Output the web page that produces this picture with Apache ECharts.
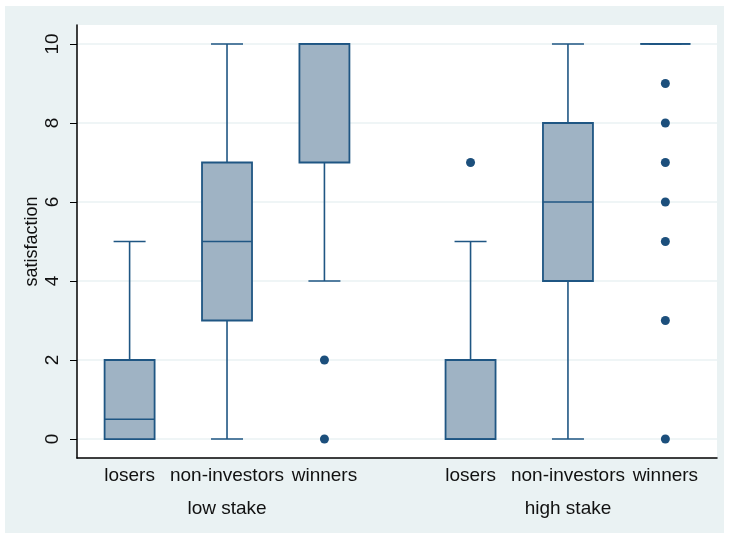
<!DOCTYPE html>
<html>
<head>
<meta charset="utf-8">
<script src="https://cdn.jsdelivr.net/npm/echarts@6.0.0/dist/echarts.min.js"></script>
<style>
  html, body { margin: 0; padding: 0; background: #ffffff; }
  #main { width: 729px; height: 535px; }
</style>
</head>
<body>
<div id="main"></div>
<script>
// groups and their categories
var groups = ['low stake', 'high stake'];
var groupPos = [2, 5.5];
var categories = ['losers', 'non-investors', 'winners', 'losers', 'non-investors', 'winners'];
var catPos = [1, 2, 3, 4.5, 5.5, 6.5];

// box stats: [min, q1, median, q3, max]
var boxStats = [
    [0, 0, 0.5, 2, 5],
    [0, 3, 5, 7, 10],
    [4, 7, 10, 10, 10],
    [0, 0, 0, 2, 5],
    [0, 4, 6, 8, 10],
    [10, 10, 10, 10, 10]
];

// outside values: [category index, value]
var outliers = [
    [2, 2], [2, 0],
    [3, 7],
    [5, 9], [5, 8], [5, 7], [5, 6], [5, 5], [5, 3], [5, 0]
];

var yTicks = [0, 2, 4, 6, 8, 10];

var LINE = '#1f5683';
var DOT = '#1c4f7c';
var FILL = '#9fb3c4';
var BG = '#eaf2f3';
var FONT = 'Liberation Sans';
var BOX_W = 50, CAP_W = 32;

var boxData = boxStats.map(function (s, i) { return [catPos[i]].concat(s); });
var outData = outliers.map(function (o) { return [catPos[o[0]], o[1]]; });

var myChart = echarts.init(document.getElementById('main'));
var option = {
    backgroundColor: '#ffffff',
    animation: false,
    graphic: [{
        type: 'rect',
        left: 5, top: 6,
        shape: { width: 719, height: 527 },
        style: { fill: BG },
        z: -10
    }],
    grid: {
        left: 77, top: 25, right: 12, bottom: 77,
        show: true, backgroundColor: '#ffffff', borderWidth: 0
    },
    xAxis: [{
        type: 'value',
        min: 0.46, max: 7.03,
        axisLine: { show: true, onZero: false, lineStyle: { color: '#000', width: 1.5 } },
        axisTick: { show: false },
        splitLine: { show: false },
        axisLabel: {
            customValues: catPos,
            formatter: function (v) { return categories[catPos.indexOf(v)]; },
            color: '#111', fontFamily: FONT, fontSize: 19, margin: 8
        }
    }, {
        type: 'value',
        position: 'bottom',
        min: 0.46, max: 7.03,
        axisLine: { show: false, onZero: false },
        axisTick: { show: false },
        splitLine: { show: false },
        axisLabel: {
            customValues: groupPos,
            formatter: function (v) { return groups[groupPos.indexOf(v)]; },
            color: '#111', fontFamily: FONT, fontSize: 19, margin: 41
        }
    }],
    yAxis: {
        type: 'value',
        min: -0.48, max: 10.48,
        name: 'satisfaction',
        nameLocation: 'middle',
        nameGap: 36,
        nameMoveOverlap: false,
        nameTextStyle: { color: '#111', fontFamily: FONT, fontSize: 18 },
        axisLine: { show: true, onZero: false, lineStyle: { color: '#000', width: 1.5 } },
        axisTick: { show: true, length: 7, customValues: yTicks, lineStyle: { color: '#000' } },
        axisLabel: {
            customValues: yTicks,
            rotate: 90,
            color: '#111', fontFamily: FONT, fontSize: 19, margin: 15
        },
        splitLine: { show: true, lineStyle: { color: BG, width: 1.5 } }
    },
    series: [{
        type: 'custom',
        xAxisIndex: 0,
        encode: { x: 0, y: [1, 2, 3, 4, 5] },
        renderItem: function (params, api) {
            var x = api.value(0);
            var pMin = api.coord([x, api.value(1)]);
            var pQ1 = api.coord([x, api.value(2)]);
            var pMed = api.coord([x, api.value(3)]);
            var pQ3 = api.coord([x, api.value(4)]);
            var pMax = api.coord([x, api.value(5)]);
            var cx = pMed[0];
            var ls = { stroke: LINE, lineWidth: 1.6, fill: null };
            return {
                type: 'group',
                children: [
                    { type: 'line', shape: { x1: cx, y1: pQ3[1], x2: cx, y2: pMax[1] }, style: ls },
                    { type: 'line', shape: { x1: cx, y1: pQ1[1], x2: cx, y2: pMin[1] }, style: ls },
                    { type: 'line', shape: { x1: cx - CAP_W / 2, y1: pMax[1], x2: cx + CAP_W / 2, y2: pMax[1] }, style: ls },
                    { type: 'line', shape: { x1: cx - CAP_W / 2, y1: pMin[1], x2: cx + CAP_W / 2, y2: pMin[1] }, style: ls },
                    {
                        type: 'rect',
                        shape: { x: cx - BOX_W / 2, y: pQ3[1], width: BOX_W, height: pQ1[1] - pQ3[1] },
                        style: { fill: FILL, stroke: LINE, lineWidth: 1.8 }
                    },
                    { type: 'line', shape: { x1: cx - BOX_W / 2, y1: pMed[1], x2: cx + BOX_W / 2, y2: pMed[1] }, style: ls }
                ]
            };
        },
        data: boxData
    }, {
        type: 'scatter',
        xAxisIndex: 0,
        symbol: 'circle',
        symbolSize: 9,
        itemStyle: { color: DOT, opacity: 1 },
        data: outData
    }]
};
myChart.setOption(option);
</script>
</body>
</html>
